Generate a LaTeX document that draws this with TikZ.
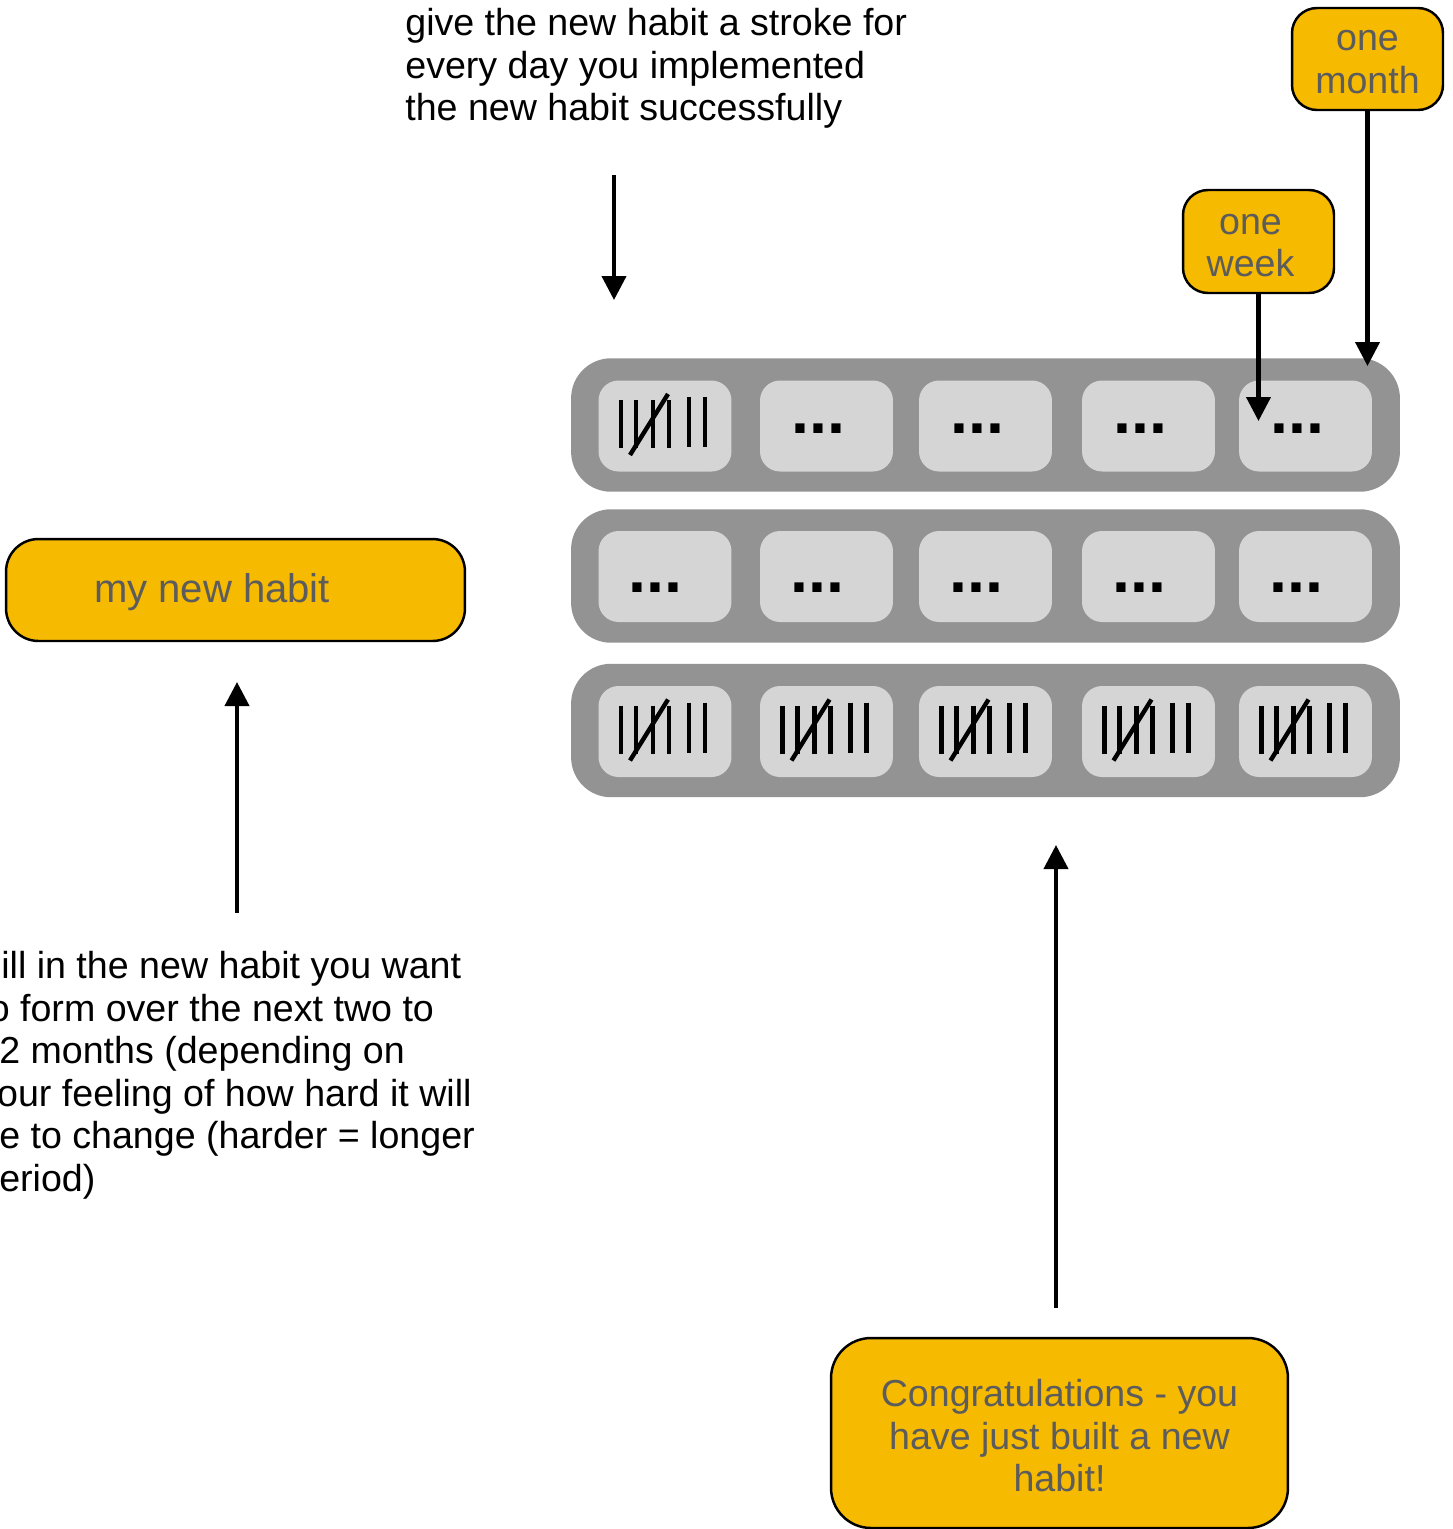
\documentclass[tikz,border=0pt]{standalone}
\usepackage{fontspec}
\setsansfont{Liberation Sans}
\usetikzlibrary{arrows.meta,positioning}
\definecolor{gold}{HTML}{F6BA00}
\definecolor{boxtext}{HTML}{5C5C5C}
\definecolor{rowgray}{HTML}{939393}
\definecolor{cellgray}{HTML}{D5D5D5}
\tikzset{
  note/.style={font=\sffamily\fontsize{21.4}{24.2}\selectfont,text=black,align=left,inner sep=0pt},
  goldbox/.style={draw=black,fill=gold,line width=1.4pt,font=\sffamily\fontsize{21.4}{24.2}\selectfont,text=boxtext,align=center,inner sep=0pt},
  boxlabel/.style={font=\sffamily\fontsize{22.8}{25}\selectfont,text=boxtext,inner sep=0pt},
  rowbar/.style={rounded corners=0.8cm,fill=rowgray,minimum width=16.58cm,minimum height=2.67cm},
  cell/.style={rounded corners=0.4cm,fill=cellgray,minimum width=2.66cm,minimum height=1.82cm},
  dots/.style={font=\sffamily\bfseries\fontsize{36.8}{40}\selectfont,inner sep=0pt},
  tallybar/.style={line width=2.5pt},
  arr/.style={-{Triangle[length=4.8mm,width=4.8mm]},draw=black,line width=2.3pt}
}
\newcommand{\tally}[1]{%
  \begin{scope}[shift={(#1)}]
    \foreach \bx in {-44,-29,-12,4} \draw[tallybar] (\bx,-26) -- (\bx,22);
    \foreach \bx in {24,40} \draw[tallybar] (\bx,-29) -- (\bx,21);
    \draw[tallybar] (-35,29) -- (3,-32);
  \end{scope}}

\begin{document}
\begin{tikzpicture}[x=0.02cm,y=-0.02cm]
\path[use as bounding box] (0,0) rectangle (1453,1529);
\clip (0,0) rectangle (1453,1529);

\node[note,anchor=north west] (strokeNote) at (405,8) {give the new habit a stroke for\\every day you implemented\\the new habit successfully};
\node[note,anchor=north west] (fillNote) at (-22,951) {Fill in the new habit you want\\to form over the next two to\\12 months (depending on\\your feeling of how hard it will\\be to change (harder = longer\\period)};

\node[goldbox,rounded corners=0.5cm,minimum width=3.02cm,minimum height=2.04cm] (month) at (1367.5,59) {};
\node[boxlabel,align=center,font=\sffamily\fontsize{21.4}{24.2}\selectfont] at ([yshift=-0.06cm]month) {one\\month};
\node[goldbox,rounded corners=0.5cm,minimum width=3.02cm,minimum height=2.06cm] (week) at (1258.5,241.5) {};
\node[boxlabel,align=center,font=\sffamily\fontsize{21.4}{24.2}\selectfont] at ([xshift=-0.16cm,yshift=-0.08cm]week) {one\\week};
\node[goldbox,rounded corners=0.65cm,minimum width=9.18cm,minimum height=2.04cm] (habit) at (235.5,590) {};
\node[boxlabel] at ([xshift=-0.47cm,yshift=-0.04cm]habit) {my new habit};
\node[goldbox,rounded corners=0.8cm,minimum width=9.14cm,minimum height=3.8cm] (congrats) at (1059.5,1433) {};
\node[boxlabel,align=center,font=\sffamily\fontsize{21.4}{24.2}\selectfont] at ([yshift=-0.06cm]congrats) {Congratulations - you\\have just built a new\\habit!};

\node[rowbar] (row1) at (985.5,425) {};
\node[rowbar] (row2) at (985.5,576) {};
\node[rowbar] (row3) at (985.5,730.5) {};
\foreach \c/\x in {1/665,2/826.5,3/985.5,4/1148.5,5/1305.5} {
  \node[cell] (c1\c) at (\x,426) {};
  \node[cell] (c2\c) at (\x,576.5) {};
  \node[cell] (c3\c) at (\x,731.5) {};
}
\foreach \c in {2,...,5} \node[dots] at ([xshift=-0.17cm,yshift=-0.06cm]c1\c) {...};
\foreach \c in {1,...,5} \node[dots] at ([xshift=-0.19cm,yshift=-0.23cm]c2\c) {...};
\tally{c11}
\foreach \c in {1,...,5} {\tally{c3\c}}

\coordinate (strokeTail) at (614,175);
\coordinate (strokeTip) at (614,300);
\coordinate (weekTip) at (1258,421);
\coordinate (monthTip) at (1367,366);
\coordinate (habitTail) at (237,913);
\coordinate (habitTip) at (237,682);
\coordinate (congratsTail) at (1056,1308);
\coordinate (congratsTip) at (1056,845);
\draw[arr] (strokeTail) -- (strokeTip);
\draw[arr] (week.south) -- (week.south |- weekTip);
\draw[arr] (month.south) -- (month.south |- monthTip);
\draw[arr] (habitTail) -- (habitTip);
\draw[arr] (congratsTail) -- (congratsTip);
\end{tikzpicture}
\end{document}
